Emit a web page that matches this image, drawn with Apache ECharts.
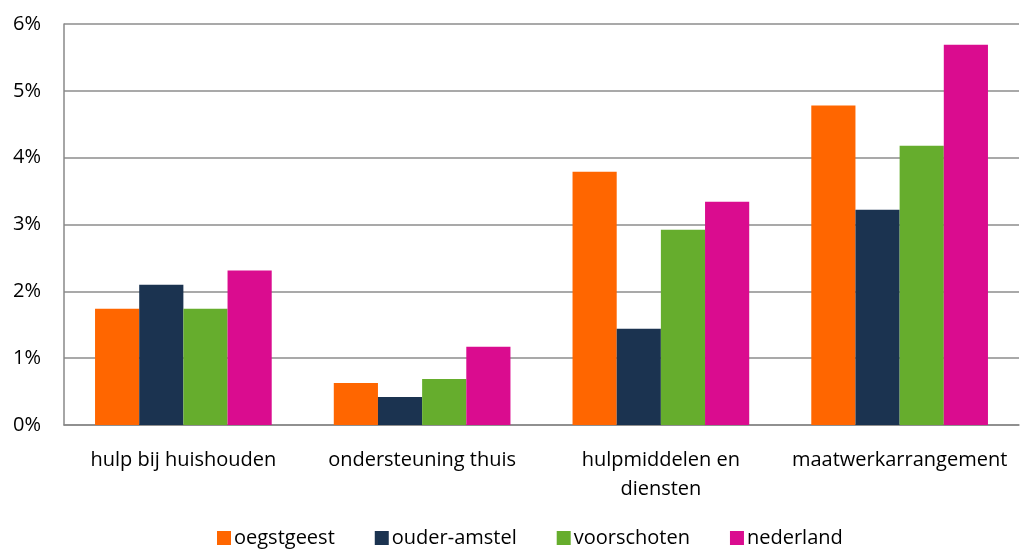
<!DOCTYPE html>
<html lang="nl">
<head>
    <meta charset="UTF-8">
    <title>Staafdiagram</title>
    <style>
        html, body { margin: 0; padding: 0; background: #fff; }
        #main { width: 1020px; height: 549px; }
    </style>
</head>
<body>
<div id="main"></div>
<script src="https://cdn.jsdelivr.net/npm/echarts@6/dist/echarts.min.js"></script>
<script>
    const chart = echarts.init(document.getElementById('main'));

    // categorieën en reeksen (in %)
    const categories = ['hulp bij huishouden', 'ondersteuning thuis', 'hulpmiddelen en\ndiensten', 'maatwerkarrangement'];
    const seriesNames = ['oegstgeest', 'ouder-amstel', 'voorschoten', 'nederland'];
    const oegstgeest = [1.74, 0.63, 3.79, 4.78];
    const ouderAmstel = [2.10, 0.42, 1.44, 3.22];
    const voorschoten = [1.74, 0.69, 2.92, 4.18];
    const nederland = [2.31, 1.17, 3.34, 5.69];
    const yTicks = [0, 1, 2, 3, 4, 5, 6];

    const colors = ['#FF6600', '#1B3350', '#66AD2D', '#DA0C8F'];
    const values = [oegstgeest, ouderAmstel, voorschoten, nederland];
    const font = '"Open Sans", sans-serif';

    const option = {
        animation: false,
        textStyle: { fontFamily: font },
        color: colors,
        grid: { left: 64, right: 1, top: 24, bottom: 124 },
        legend: {
            bottom: -4,
            left: 212,
            icon: 'rect',
            itemWidth: 14,
            itemHeight: 14,
            itemGap: 40,
            textStyle: { fontSize: 20, color: '#000', fontFamily: font, padding: [0, 0, 0, -2] },
            data: seriesNames
        },
        xAxis: {
            type: 'category',
            data: categories,
            axisTick: { show: false },
            axisLine: { lineStyle: { color: '#888', width: 1.5 } },
            axisLabel: { fontSize: 20, color: '#000', margin: 21, lineHeight: 29, interval: 0 }
        },
        yAxis: {
            type: 'value',
            min: yTicks[0],
            max: yTicks[yTicks.length - 1],
            interval: 1,
            axisLine: { show: true, lineStyle: { color: '#888', width: 1.5 } },
            axisTick: { show: false },
            splitLine: { lineStyle: { color: '#8C8C8C', width: 1.5 } },
            axisLabel: { fontSize: 20, color: '#000', margin: 23, formatter: v => v + '%' }
        },
        series: seriesNames.map((name, i) => ({
            name,
            type: 'bar',
            data: values[i],
            barGap: '0%',
            barCategoryGap: '26%'
        }))
    };

    chart.setOption(option);
</script>
</body>
</html>
